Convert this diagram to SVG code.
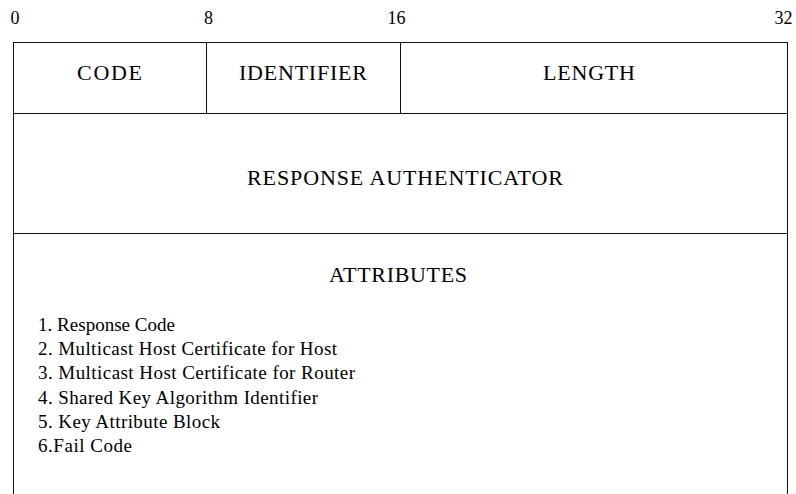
<svg xmlns="http://www.w3.org/2000/svg" width="796" height="494" viewBox="0 0 796 494" font-family="'Liberation Serif', 'DejaVu Serif', serif">
  <style>
    .rule { stroke: #111; stroke-width: 1; fill: none; shape-rendering: crispEdges; }
    .bit { font-size: 18px; text-anchor: middle; fill: #000; }
    .field { font-size: 22px; text-anchor: middle; fill: #000; }
    .item { font-size: 19px; fill: #000; }
  </style>
  <rect width="796" height="494" fill="#fff"/>

  <!-- bit offsets -->
  <g id="bit-scale">
    <text class="bit" x="15" y="24">0</text>
    <text class="bit" x="208.5" y="24">8</text>
    <text class="bit" x="396.5" y="24">16</text>
    <text class="bit" x="783.5" y="24">32</text>
  </g>

  <!-- header frame: open at the bottom -->
  <g id="frame">
    <path class="rule" d="M13.5 494 V42.5 H787.5 V494"/>
    <line class="rule" x1="13.5" y1="113.5" x2="787.5" y2="113.5"/>
    <line class="rule" x1="13.5" y1="233.5" x2="787.5" y2="233.5"/>
    <line class="rule" x1="206.5" y1="42.5" x2="206.5" y2="113.5"/>
    <line class="rule" x1="400.5" y1="42.5" x2="400.5" y2="113.5"/>
  </g>

  <g id="code">
    <text class="field" x="109.5" y="80" textLength="65" lengthAdjust="spacing">CODE</text>
  </g>
  <g id="identifier">
    <text class="field" x="303" y="80" textLength="128" lengthAdjust="spacing">IDENTIFIER</text>
  </g>
  <g id="length">
    <text class="field" x="589" y="80" textLength="92" lengthAdjust="spacing">LENGTH</text>
  </g>
  <g id="response-authenticator">
    <text class="field" x="405" y="185" textLength="316" lengthAdjust="spacing">RESPONSE AUTHENTICATOR</text>
  </g>
  <g id="attributes">
    <text class="field" x="398" y="282" textLength="138" lengthAdjust="spacing">ATTRIBUTES</text>
    <text class="item" x="38" y="331" textLength="137" lengthAdjust="spacing">1. Response Code</text>
    <text class="item" x="38" y="355.2" textLength="299" lengthAdjust="spacing">2. Multicast Host Certificate for Host</text>
    <text class="item" x="38" y="379.4" textLength="317" lengthAdjust="spacing">3. Multicast Host Certificate for Router</text>
    <text class="item" x="38" y="403.6" textLength="280" lengthAdjust="spacing">4. Shared Key Algorithm Identifier</text>
    <text class="item" x="38" y="427.8" textLength="182" lengthAdjust="spacing">5. Key Attribute Block</text>
    <text class="item" x="38" y="452" textLength="94" lengthAdjust="spacing">6.Fail Code</text>
  </g>
</svg>
